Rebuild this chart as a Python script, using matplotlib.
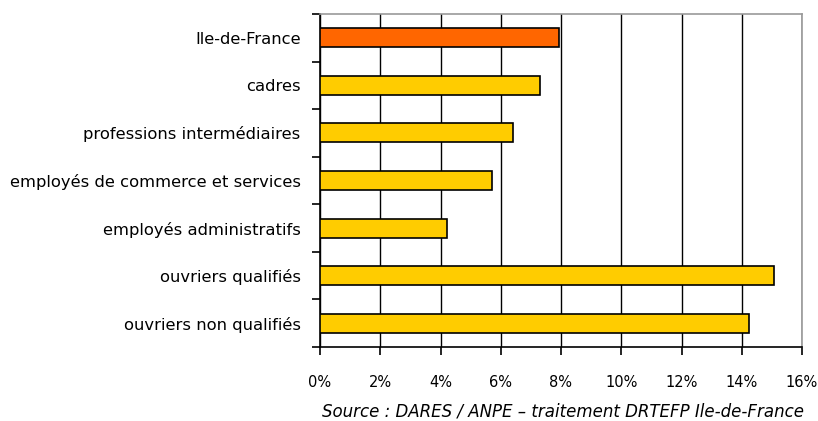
import matplotlib
matplotlib.use("Agg")
import matplotlib.pyplot as plt
from matplotlib.ticker import FixedLocator, PercentFormatter

categories = ["Ile-de-France", "cadres", "professions intermédiaires",
              "employés de commerce et services", "employés administratifs",
              "ouvriers qualifiés", "ouvriers non qualifiés"]
values = [7.95, 7.3, 6.4, 5.72, 4.2, 15.08, 14.25]
colors = ["#FF6600"] + ["#FFCC00"] * 6
xticks = [0, 2, 4, 6, 8, 10, 12, 14, 16]
source = "Source : DARES / ANPE – traitement DRTEFP Ile-de-France"

plt.rcParams['font.family'] = ['DejaVu Sans']
fig = plt.figure(figsize=(8.18, 4.21), dpi=100)
ax = fig.add_axes([320/818, 1-347/421, 482/818, 333/421])

n = len(categories)
ypos = list(range(n))[::-1]
ax.barh(ypos, values, height=0.4, color=colors, edgecolor="black", linewidth=1.2, zorder=3)
ax.set_xlim(0, 16)
ax.set_ylim(-0.5, n - 0.5)
ax.set_xticks(xticks)
ax.xaxis.set_major_formatter(PercentFormatter(decimals=0))
ax.set_yticks(ypos)
ax.set_yticklabels(categories, fontsize=11.8)
ax.yaxis.set_minor_locator(FixedLocator([i - 0.5 for i in range(n + 1)]))
ax.tick_params(axis='y', which='major', length=0, pad=14)
ax.tick_params(axis='y', which='minor', length=6, width=1.2, direction='out', color='black')
ax.tick_params(axis='x', which='major', length=6, width=1.2, direction='out', labelsize=10.5, pad=14)
ax.grid(axis='x', color='black', linewidth=1, zorder=0)
for s in ['top', 'right']:
    ax.spines[s].set_color('#999999')
    ax.spines[s].set_linewidth(1.2)
for s in ['left', 'bottom']:
    ax.spines[s].set_color('black')
    ax.spines[s].set_linewidth(1.2)
ax.set_axisbelow(True)

fig.text(563/818, 1-411/421, source, ha='center', va='center', fontsize=12, style='italic')

fig.savefig("out.png", dpi=100)
